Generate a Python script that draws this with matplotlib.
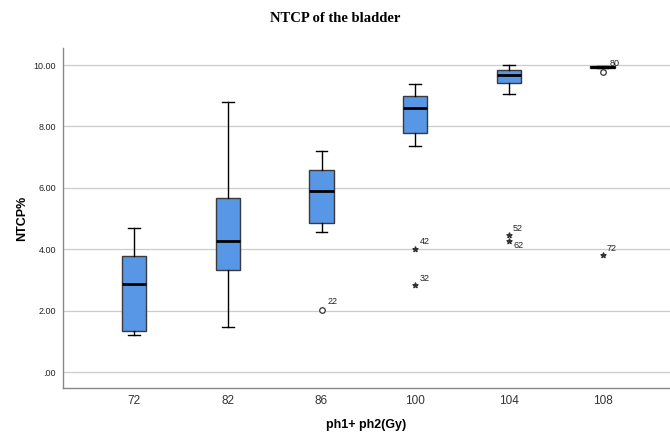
import matplotlib
matplotlib.use("Agg")
import matplotlib.pyplot as plt

categories = ["72", "82", "86", "100", "104", "108"]
whisker_low = [1.20, 1.47, 4.57, 7.37, 9.07, 9.90]
q1 = [1.33, 3.31, 4.85, 7.78, 9.43, 9.91]
median = [2.86, 4.26, 5.89, 8.60, 9.69, 9.93]
q3 = [3.78, 5.67, 6.58, 8.99, 9.84, 9.96]
whisker_high = [4.69, 8.79, 7.20, 9.38, 9.99, 9.97]

# outliers (circles): (category index, value, case label)
out_cat = [2, 5]
out_val = [2.03, 9.78]
out_lab = ["22", "80"]
# extremes (stars)
ext_cat = [3, 3, 4, 4, 5]
ext_val = [4.02, 2.83, 4.47, 4.26, 3.82]
ext_lab = ["42", "32", "52", "62", "72"]

fig = plt.figure(figsize=(6.7, 4.34), dpi=100)
ax = fig.add_axes([0.094, 0.106, 0.906, 0.783])

stats = []
for i in range(len(categories)):
    stats.append(dict(med=median[i], q1=q1[i], q3=q3[i],
                      whislo=whisker_low[i], whishi=whisker_high[i], fliers=[]))

ax.bxp(stats, positions=range(len(categories)), widths=0.26, patch_artist=True,
       showfliers=False,
       boxprops=dict(facecolor="#5897E6", edgecolor="#3a3a3a", linewidth=1.0),
       medianprops=dict(color="black", linewidth=2.0),
       whiskerprops=dict(color="black", linewidth=1.0),
       capprops=dict(color="black", linewidth=1.0),
       capwidths=0.125, zorder=3)

ax.scatter(out_cat, out_val, marker="o", s=16, facecolors="white",
           edgecolors="#333333", linewidths=0.9, zorder=4)
ax.scatter(ext_cat, ext_val, marker="*", s=14, color="#333333", zorder=4)

for c, v, lab in zip(out_cat, out_val, out_lab):
    dx, dy = (4, 4) if lab == "22" else (5, 4)
    ax.annotate(lab, (c, v), xytext=(dx, dy), textcoords="offset points",
                fontsize=6.5, family="Liberation Sans", color="#222222", zorder=5)
for c, v, lab in zip(ext_cat, ext_val, ext_lab):
    if lab == "62":
        dx, dy = (3, -5)
    else:
        dx, dy = (3, 3)
    ax.annotate(lab, (c, v), xytext=(dx, dy), textcoords="offset points",
                fontsize=6.5, family="Liberation Sans", color="#222222", zorder=5)

ax.set_xlim(-0.76, 5.72)
ax.set_ylim(-0.52, 10.55)
yt = [0, 2, 4, 6, 8, 10]
ax.set_yticks(yt)
ax.set_yticklabels([".00", "2.00", "4.00", "6.00", "8.00", "10.00"],
                   fontsize=6.5, family="Liberation Sans", color="#222222")
ax.set_xticks(range(len(categories)))
ax.set_xticklabels(categories, fontsize=8.5, family="Liberation Sans", color="#333333")
ax.tick_params(axis="both", length=0, pad=5)
ax.yaxis.grid(True, color="#cccccc", linewidth=0.9, zorder=0)
ax.set_axisbelow(True)
for s in ["top", "right"]:
    ax.spines[s].set_visible(False)
for s in ["left", "bottom"]:
    ax.spines[s].set_color("#888888")
    ax.spines[s].set_linewidth(1.0)

ax.set_ylabel("NTCP%", fontsize=9, fontweight="bold", family="Liberation Sans", labelpad=4)
ax.set_xlabel("ph1+ ph2(Gy)", fontsize=9, fontweight="bold", family="Liberation Sans", labelpad=9)
fig.text(0.5, 0.957, "NTCP of the bladder", ha="center", va="center",
         fontsize=10.5, fontweight="bold", family="Liberation Serif")

fig.savefig("out.png", dpi=100)
